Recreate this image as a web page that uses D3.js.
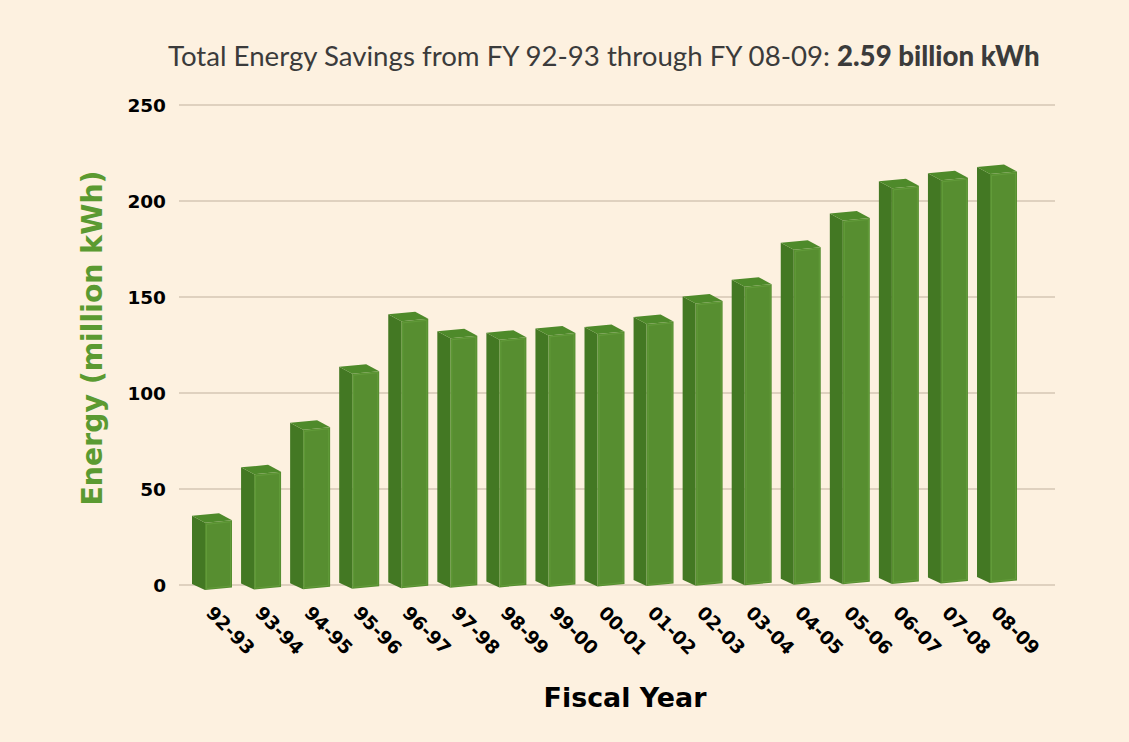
<!DOCTYPE html>
<html><head><meta charset="utf-8">
<script src="https://cdn.jsdelivr.net/npm/d3@7"></script>
<style>
html,body{margin:0;padding:0;background:#fdf1e0;}
svg{display:block;}
</style></head>
<body>
<svg id="chart" width="1129" height="742"></svg>
<script>
const categories = ["92-93","93-94","94-95","95-96","96-97","97-98","98-99","99-00","00-01","01-02","02-03","03-04","04-05","05-06","06-07","07-08","08-09"];
const energySavings = [35, 60, 83, 112, 139, 130, 129, 131, 131.5, 136.5, 147, 155.5, 174.5, 189.5, 206, 210, 213];
const yTicks = [0, 50, 100, 150, 200, 250];
const titleText = "Total Energy Savings from FY 92-93 through FY 08-09: ";
const titleBold = "2.59 billion kWh";
const yTitle = "Energy (million kWh)";
const xTitle = "Fiscal Year";

const W = 1129, H = 742;
const svg = d3.select("#chart");
const FONT = "Lato, 'Open Sans', sans-serif";
const BOLD = "'DejaVu Sans', Verdana, sans-serif";

svg.append("rect").attr("width", W).attr("height", H).attr("fill", "#fdf1e0");

function fitSize(sel, target, base) {
  sel.each(function () {
    const len = this.getComputedTextLength();
    d3.select(this).attr("font-size", base * target / len);
  });
}

const y = d3.scaleLinear().domain([0, 250]).range([585, 105]);
const x = d3.scaleBand().domain(categories).range([192, 1017]).paddingInner(0.185).paddingOuter(0);

// gridlines
svg.append("g").selectAll("line").data(yTicks).join("line")
  .attr("x1", 179).attr("x2", 1055)
  .attr("y1", d => y(d)).attr("y2", d => y(d))
  .attr("stroke", "#d5c6b4").attr("stroke-width", 1.3);

// y tick labels
svg.append("g").selectAll("text").data(yTicks).join("text")
  .attr("x", 166).attr("y", d => y(d)).attr("dy", "0.36em")
  .attr("text-anchor", "end")
  .attr("font-family", BOLD).attr("font-weight", "bold").attr("font-size", 18.5)
  .attr("fill", "#000").text(d => d);

// 3D bars
const depthX = -13, depthY = -7, frontW = 27, slant = -2.5;
const n = categories.length;
const bars = svg.append("g");
categories.forEach((c, i) => {
  const v = energySavings[i];
  const h = y(0) - y(v);
  const fx = x(c) - depthX;
  const fb = y(0) + 5 - 7 * i / (n - 1);
  const ft = fb - h;
  const g = bars.append("g");
  g.append("path").attr("d", d3.line()([
    [fx + depthX, ft + depthY], [fx, ft], [fx, fb], [fx + depthX, fb + depthY + 1]
  ]) + "Z").attr("fill", "#437823");
  g.append("path").attr("d", d3.line()([
    [fx + depthX, ft + depthY], [fx + frontW + depthX, ft + slant + depthY],
    [fx + frontW, ft + slant], [fx, ft]
  ]) + "Z").attr("fill", "#4e8a2a");
  g.append("path").attr("d", d3.line()([
    [fx, ft], [fx + frontW, ft + slant], [fx + frontW, fb + slant], [fx, fb]
  ]) + "Z").attr("fill", "#578e30");
  g.append("path").attr("d", d3.line()([
    [fx + 1.5, fb - 1.5], [fx + 1.5, ft + 1.5], [fx + frontW - 1.5, ft + slant + 1.5], [fx + frontW - 1.5, fb + slant - 1.5]
  ]) + "Z").attr("fill", "none").attr("stroke", "#6aa540").attr("stroke-width", 0.8).attr("opacity", 0.7);
});

// x labels rotated
svg.append("g").selectAll("text").data(categories).join("text")
  .attr("transform", (d) => `translate(${x(d) - depthX},${614}) rotate(45)`)
  .attr("text-anchor", "start")
  .attr("font-family", BOLD).attr("font-weight", "bold").attr("font-size", 18.5)
  .attr("fill", "#000").text(d => d);

// title
const t = svg.append("text").attr("x", 168).attr("y", 66)
  .attr("font-family", FONT).attr("font-size", 23).attr("fill", "#3b3b3b");
t.append("tspan").text(titleText);
t.append("tspan").attr("font-weight", 900).text(titleBold);
const tw = t.node().getComputedTextLength();
t.attr("font-size", 23 * 872 / tw);

// y axis title
const yt = svg.append("text")
  .attr("transform", "translate(102,338) rotate(-90)")
  .attr("text-anchor", "middle")
  .attr("font-family", BOLD).attr("font-weight", "bold").attr("font-size", 26)
  .attr("fill", "#5b9a31").text(yTitle);
fitSize(yt, 335, 26);

// x axis title
const xt = svg.append("text")
  .attr("x", 625).attr("y", 707)
  .attr("text-anchor", "middle")
  .attr("font-family", BOLD).attr("font-weight", "bold").attr("font-size", 28)
  .attr("fill", "#000").text(xTitle);
fitSize(xt, 163, 28);
</script>
</body></html>
